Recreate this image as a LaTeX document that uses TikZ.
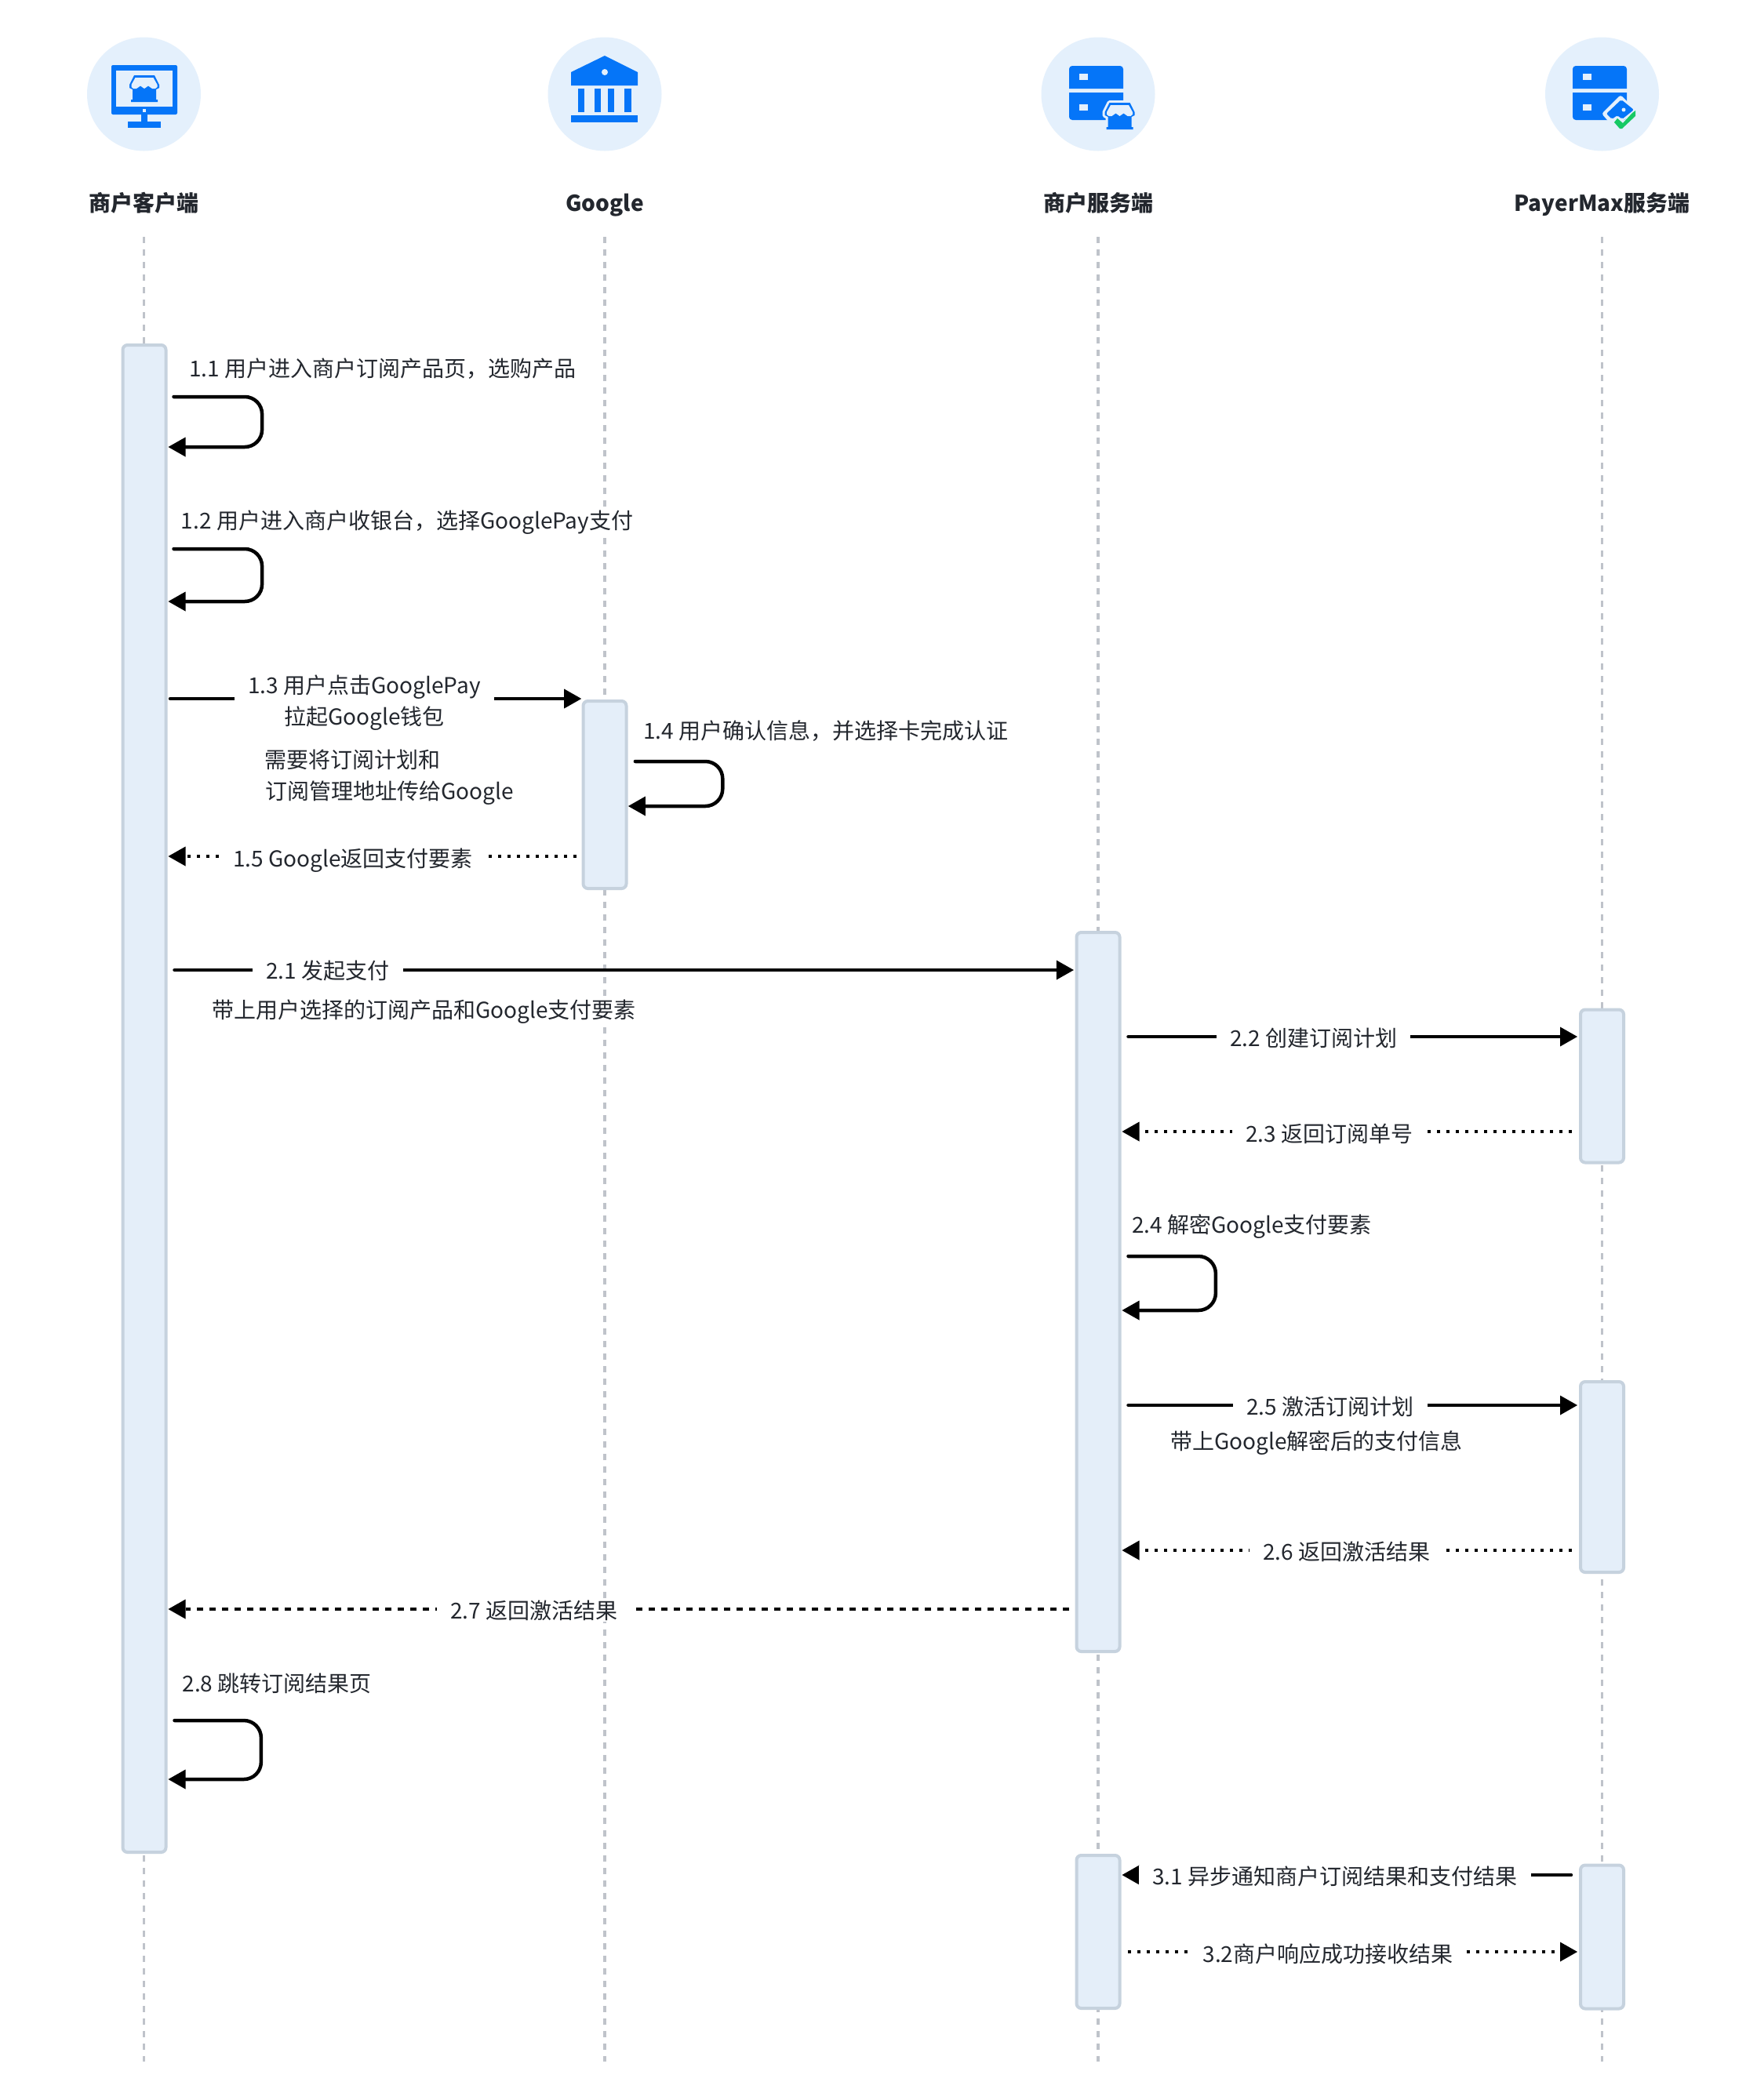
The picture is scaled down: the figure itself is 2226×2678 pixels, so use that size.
\documentclass[tikz,border=0pt]{standalone}
\usepackage{fontspec}
\setmainfont{Noto Sans CJK SC}
\usetikzlibrary{arrows.meta}
\definecolor{iconblue}{HTML}{0575F8}
\definecolor{circ}{HTML}{E4F0FC}
\definecolor{boxfill}{HTML}{E4EEF9}
\definecolor{boxline}{HTML}{C6D2DE}
\definecolor{lifeline}{HTML}{BFC3CA}
\definecolor{txt}{HTML}{23272E}
\definecolor{okgreen}{HTML}{17C964}
\tikzset{
  headcirc/.style={circle,fill=circ,draw=none,minimum size=145pt,inner sep=0pt,outer sep=0pt},
  headtxt/.style={anchor=base,inner sep=0pt,text=txt,font=\fontsize{28}{40}\selectfont\bfseries},
  life/.style={draw=lifeline,line width=3.5pt,dash pattern=on 8pt off 8pt},
  act/.style={rectangle,rounded corners=6pt,draw=boxline,fill=boxfill,line width=4pt,minimum width=55pt,inner sep=0pt,outer sep=0pt},
  msg/.style={draw=black,line width=4.5pt,line cap=round,-{Triangle[length=22pt,width=25pt,line width=0pt]}},
  dotmsg/.style={msg,line cap=butt,dash pattern=on 4pt off 8pt},
  dashmsg/.style={msg,line cap=butt,dash pattern=on 8pt off 8pt},
  loopmsg/.style={msg,rounded corners=22pt},
  lbl/.style={anchor=base,fill=white,inner xsep=0pt,inner ysep=0pt,text height=24pt,text depth=4pt,text=txt,font=\fontsize{28}{40}\selectfont},
  msglbl/.style={lbl,inner xsep=17pt},
  ic/.style={fill=iconblue,draw=none},
  hole/.style={fill=circ,draw=none}
}
\newcommand{\shopicon}{%
  \fill[ic] (171,96) -- (197,96) -- (203,108) -- (203,112) -- (199,114) -- (199,127) -- (201,127) -- (201,130) -- (167,130) -- (167,127) -- (169,127) -- (169,114) -- (165,112) -- (165,108) -- cycle;
  \fill[hole] (172.5,99) -- (195.5,99) -- (200.5,108) -- (200.5,111) -- (198,113) -- (194,113) -- (189,109.5) -- (184,113) -- (179,109.5) -- (174,113) -- (170,113) -- (167.5,111) -- (167.5,108) -- cycle;
}
\newcommand{\serverstack}{%
  \fill[ic] (0,113) [rounded corners=4pt] -- (0,84) -- (69,84) [sharp corners] -- (69,113) -- cycle;
  \fill[ic] (0,118) -- (69,118) [rounded corners=4pt] -- (69,153) -- (0,153) [sharp corners] -- cycle;
  \fill[hole] (13,94) rectangle (24,102);
  \fill[hole] (13,133) rectangle (24,141);
}
\begin{document}
\begin{tikzpicture}[x=1pt,y=-1pt]
\useasboundingbox (0,0) rectangle (2226,2678);
\fill[white] (0,0) rectangle (2226,2678);

% header circles
\node[headcirc] (c1i) at (183.5,120) {};
\node[headcirc] (c2i) at (771,120) {};
\node[headcirc] (c3i) at (1400,120) {};
\node[headcirc] (c4i) at (2042.5,120) {};

% monitor icon
\fill[ic,rounded corners=2pt] (142,83) rectangle (226,146);
\fill[hole] (148,90) rectangle (220,136);
\fill[hole] (182,139) rectangle (186,143);
\fill[ic] (180,146) rectangle (188,155);
\fill[ic] (163,155) rectangle (205,163);
\shopicon

% bank icon
\fill[ic] (771,71) -- (813,92) -- (813,109) -- (728,109) -- (728,92) -- cycle;
\fill[hole] (771,92) circle (4);
\fill[ic] (737,113) rectangle (745,143);
\fill[ic] (758,113) rectangle (766,143);
\fill[ic] (775,113) rectangle (783,143);
\fill[ic] (796,113) rectangle (805,143);
\fill[ic] (728,147) rectangle (813,156);

% server + shop icon
\begin{scope}[xshift=1363pt]
\serverstack
\end{scope}
\begin{scope}[xshift=1243.5pt,yshift=-35pt]
\draw[draw=circ,line width=6pt,line join=round] (171,96) -- (197,96) -- (203,108) -- (203,112) -- (199,114) -- (199,127) -- (169,127) -- (169,114) -- (165,112) -- (165,108) -- cycle;
\shopicon
\end{scope}

% server + wallet icon
\begin{scope}[xshift=2005pt]
\serverstack
\end{scope}
\fill[hole,rounded corners=3pt] (2066,121) -- (2042,145) -- (2056,161) -- (2088,143) -- cycle;
\fill[ic,rounded corners=2pt] (2067,127) -- (2048,145) -- (2055,152) -- (2062,147) -- (2068,152) -- (2083,140) -- cycle;
\fill[hole] (2070,140) circle (2.5);
\fill[okgreen] (2058,156) -- (2062,151) -- (2069,157) -- (2081,144) -- (2085,141) -- (2085,148) -- (2068,164) -- (2065,164) -- cycle;

% header titles
\node[headtxt] (h1) at (183.5,269) {商户客户端};
\node[headtxt] (h2) at (771,269) {Google};
\node[headtxt] (h3) at (1400,269) {商户服务端};
\node[headtxt] (h4) at (2042.5,269) {PayerMax服务端};

% lifelines
\draw[life] (h1.south |- 0,302) -- (h1.south |- 0,2629);
\draw[life] (h2.south |- 0,302) -- (h2.south |- 0,2629);
\draw[life] (h3.south |- 0,302) -- (h3.south |- 0,2629);
\draw[life] (h4.south |- 0,302) -- (h4.south |- 0,2629);

% activation bars
\node[act,minimum height=1922pt] (c1) at (184,1401) {};
\node[act,minimum height=239pt] (g1) at (771,1013.5) {};
\node[act,minimum height=917pt] (s1) at (1400,1647.5) {};
\node[act,minimum height=195pt] (p1) at (2042.5,1385) {};
\node[act,minimum height=243pt] (p2) at (2042.5,1883.5) {};
\node[act,minimum height=195pt] (s2) at (1400,2463.5) {};
\node[act,minimum height=183pt] (p3) at (2042.5,2470) {};

% messages
\draw[loopmsg] ([xshift=10pt]c1.east |- 0,506) -- ++(112.6,0) -- ++(0,64) -- ([xshift=3pt]c1.east |- 0,570);
\draw[loopmsg] ([xshift=10pt]c1.east |- 0,700) -- ++(112.6,0) -- ++(0,67) -- ([xshift=3pt]c1.east |- 0,767);
\draw[msg] ([xshift=5.5pt]c1.east |- 0,891) -- ([xshift=-2.3pt]g1.west |- 0,891);
\draw[loopmsg] ([xshift=11.4pt]g1.east |- 0,971) -- ++(111.4,0) -- ++(0,57) -- ([xshift=2.4pt]g1.east |- 0,1028);
\draw[dotmsg] ([xshift=-8.3pt]g1.west |- 0,1092) -- ([xshift=3pt]c1.east |- 0,1092);
\draw[msg] ([xshift=11pt]c1.east |- 0,1237) -- ([xshift=-3.6pt]s1.west |- 0,1237);
\draw[msg] ([xshift=11pt]s1.east |- 0,1322) -- ([xshift=-4pt]p1.west |- 0,1322);
\draw[dotmsg] ([xshift=-11pt]p1.west |- 0,1443) -- ([xshift=3pt]s1.east |- 0,1443);
\draw[loopmsg] ([xshift=11pt]s1.east |- 0,1602) -- ++(111.4,0) -- ++(0,69) -- ([xshift=3pt]s1.east |- 0,1671);
\draw[msg] ([xshift=11pt]s1.east |- 0,1792) -- ([xshift=-4pt]p2.west |- 0,1792);
\draw[dotmsg] ([xshift=-11pt]p2.west |- 0,1977) -- ([xshift=3pt]s1.east |- 0,1977);
\draw[dashmsg] ([xshift=-9.5pt]s1.west |- 0,2052) -- ([xshift=3pt]c1.east |- 0,2052);
\draw[loopmsg] ([xshift=11pt]c1.east |- 0,2194) -- ++(110.4,0) -- ++(0,75) -- ([xshift=3pt]c1.east |- 0,2269);
\draw[msg] ([xshift=-12pt]p3.west |- 0,2391) -- ([xshift=3pt]s2.east |- 0,2391);
\draw[dotmsg] ([xshift=10pt]s2.east |- 0,2489) -- ([xshift=-4pt]p3.west |- 0,2489);

% labels
\node[lbl] (l11) at (487.7,480) {1.1 用户进入商户订阅产品页，选购产品};
\node[lbl] (l12) at (519.1,674) {1.2 用户进入商户收银台，选择GooglePay支付};
\node[msglbl,text depth=10pt] (l13) at (464.5,884) {1.3 用户点击GooglePay};
\node[lbl] (l13b) at (464.5,924) {拉起Google钱包};
\node[lbl] (l13c) at (449.5,979) {需要将订阅计划和};
\node[lbl] (l13d) at (496.3,1019) {订阅管理地址传给Google};
\node[lbl] (l14) at (1052.7,942) {1.4 用户确认信息，并选择卡完成认证};
\node[msglbl] (l15) at (450,1105) {1.5 Google返回支付要素};
\node[msglbl] (l21) at (418,1248) {2.1 发起支付};
\node[lbl] (l21b) at (540.6,1298) {带上用户选择的订阅产品和Google支付要素};
\node[msglbl] (l22) at (1674.8,1334) {2.2 创建订阅计划};
\node[msglbl] (l23) at (1694.6,1456) {2.3 返回订阅单号};
\node[lbl] (l24) at (1595.8,1572) {2.4 解密Google支付要素};
\node[msglbl] (l25) at (1696,1804) {2.5 激活订阅计划};
\node[lbl] (l25b) at (1678.6,1848) {带上Google解密后的支付信息};
\node[msglbl] (l26) at (1717,1989) {2.6 返回激活结果};
\node[msglbl] (l27) at (681,2064) {2.7 返回激活结果};
\node[lbl] (l28) at (353.2,2157) {2.8 跳转订阅结果页};
\node[msglbl] (l31) at (1702,2403) {3.1 异步通知商户订阅结果和支付结果};
\node[msglbl] (l32) at (1693,2502) {3.2商户响应成功接收结果};
\end{tikzpicture}
\end{document}
